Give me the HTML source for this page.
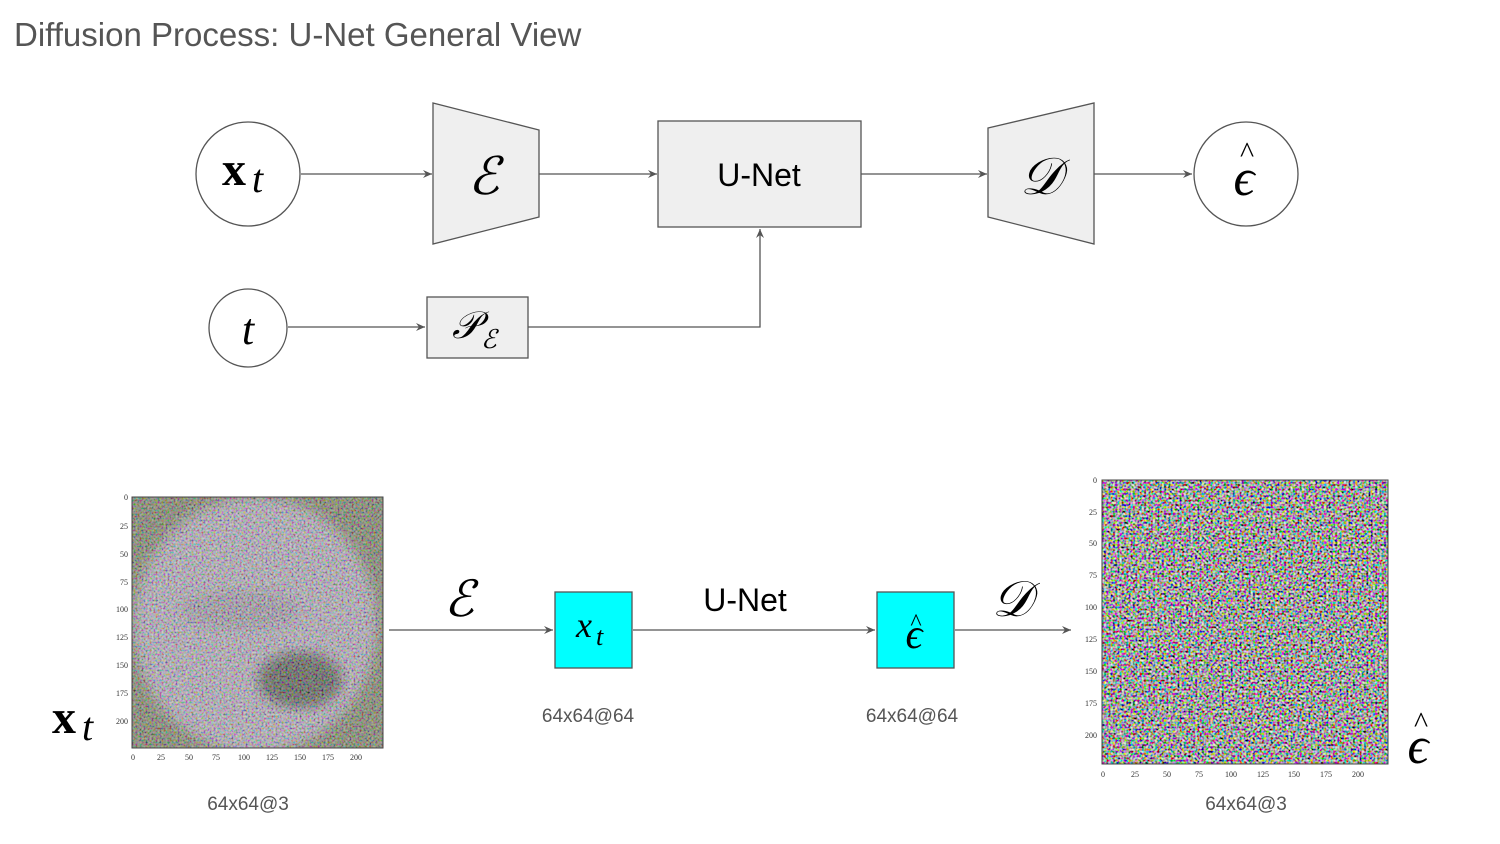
<!DOCTYPE html>
<html><head><meta charset="utf-8"><style>
html,body{margin:0;padding:0;background:#fff;}
svg{display:block;}
text{font-family:"Liberation Sans",sans-serif;}
text.m{font-family:"Liberation Serif",serif;font-style:italic;}
text.b{font-family:"Liberation Serif",serif;font-weight:bold;}
text.s{font-family:"Liberation Serif",serif;}
text.ax{font-family:"Liberation Serif",serif;font-size:8px;fill:#333;}
</style></head><body>
<svg width="1500" height="844" viewBox="0 0 1500 844" xmlns="http://www.w3.org/2000/svg">
<defs>
<marker id="ar" markerWidth="10" markerHeight="8" refX="9" refY="4" orient="auto" markerUnits="userSpaceOnUse">
<path d="M0,0 L9,4 L0,8 L3,4 z" fill="#555"/></marker>
<filter id="nz" x="0" y="0" width="100%" height="100%">
<feTurbulence type="fractalNoise" baseFrequency="0.45" numOctaves="1" seed="3" result="t"/>
<feColorMatrix in="t" type="matrix" values="2.4 0 0 0 -0.82  0 2.4 0 0 -0.82  0 0 2.4 0 -0.82  0 0 0 0 1"/>
</filter>
<filter id="nz2" x="0" y="0" width="100%" height="100%">
<feTurbulence type="fractalNoise" baseFrequency="0.5" numOctaves="1" seed="7" result="t"/>
<feColorMatrix in="t" type="matrix" values="2.4 0 0 0 -0.7  0 2.4 0 0 -0.7  0 0 2.4 0 -0.7  0 0 0 0 0.45"/>
</filter>
<filter id="bl"><feGaussianBlur stdDeviation="6"/></filter>
<clipPath id="c1"><rect x="132" y="497" width="251" height="251"/></clipPath>
</defs>

<text x="14" y="46" font-size="33" fill="#555">Diffusion Process: U-Net General View</text>

<g stroke="#555" stroke-width="1.3" fill="none">
<circle cx="248" cy="174" r="52" fill="#fff"/>
<line x1="301" y1="174" x2="432" y2="174" marker-end="url(#ar)"/>
<polygon points="433,103 539,130 539,217 433,244" fill="#efefef"/>
<line x1="539" y1="174" x2="657" y2="174" marker-end="url(#ar)"/>
<rect x="658" y="121" width="203" height="106" fill="#efefef"/>
<line x1="861" y1="174" x2="987" y2="174" marker-end="url(#ar)"/>
<polygon points="988,128 1094,103 1094,244 988,217" fill="#efefef"/>
<line x1="1094" y1="174" x2="1192" y2="174" marker-end="url(#ar)"/>
<circle cx="1246" cy="174" r="52" fill="#fff"/>
<circle cx="248" cy="328" r="39" fill="#fff"/>
<line x1="288" y1="327" x2="425" y2="327" marker-end="url(#ar)"/>
<rect x="427" y="297" width="101" height="61" fill="#efefef"/>
<polyline points="528,327 760,327 760,229" marker-end="url(#ar)"/>
</g>
<text x="222" y="185" font-size="48" class="b">x</text>
<text x="252" y="192" font-size="40" class="m">t</text>
<text x="468" y="194" font-size="52" class="m">ℰ</text>
<text x="759" y="186" font-size="32" text-anchor="middle">U-Net</text>
<text x="1020" y="194" font-size="52" class="m">𝒟</text>
<text x="1244" y="195" font-size="52" class="m" text-anchor="middle">ϵ</text>
<text x="1247" y="162" font-size="30" class="s" text-anchor="middle">^</text>
<text x="248" y="344" font-size="44" class="m" text-anchor="middle">t</text>
<text x="452" y="338" font-size="38" class="m">𝒫</text>
<text x="481" y="348" font-size="26" class="m">ℰ</text>

<g clip-path="url(#c1)">
<rect x="132" y="497" width="251" height="251" fill="#6f7258"/>
<ellipse cx="255" cy="625" rx="122" ry="128" fill="#aaa2b2" filter="url(#bl)"/>
<ellipse cx="300" cy="680" rx="42" ry="28" fill="#45463f" filter="url(#bl)"/>
<ellipse cx="240" cy="610" rx="60" ry="20" fill="#958d9c" filter="url(#bl)"/>
<rect x="132" y="497" width="251" height="251" filter="url(#nz2)"/>
</g>
<rect x="132" y="497" width="251" height="251" fill="none" stroke="#444" stroke-width="1"/>
<g text-anchor="end">
<text class="ax" x="128" y="500">0</text><text class="ax" x="128" y="529">25</text><text class="ax" x="128" y="557">50</text><text class="ax" x="128" y="585">75</text><text class="ax" x="128" y="612">100</text><text class="ax" x="128" y="640">125</text><text class="ax" x="128" y="668">150</text><text class="ax" x="128" y="696">175</text><text class="ax" x="128" y="724">200</text>
</g>
<g text-anchor="middle">
<text class="ax" x="133" y="760">0</text><text class="ax" x="161" y="760">25</text><text class="ax" x="189" y="760">50</text><text class="ax" x="216" y="760">75</text><text class="ax" x="244" y="760">100</text><text class="ax" x="272" y="760">125</text><text class="ax" x="300" y="760">150</text><text class="ax" x="328" y="760">175</text><text class="ax" x="356" y="760">200</text>
</g>
<text x="52" y="733" font-size="48" class="b">x</text>
<text x="82" y="740" font-size="40" class="m">t</text>
<text x="248" y="810" font-size="19" fill="#555" text-anchor="middle">64x64@3</text>

<g stroke="#555" stroke-width="1.3" fill="none">
<line x1="389" y1="630" x2="553" y2="630" marker-end="url(#ar)"/>
<line x1="633" y1="630" x2="875" y2="630" marker-end="url(#ar)"/>
<line x1="955" y1="630" x2="1071" y2="630" marker-end="url(#ar)"/>
</g>
<rect x="555" y="592" width="77" height="76" fill="#00ffff" stroke="#555" stroke-width="1.3"/>
<rect x="877" y="592" width="77" height="76" fill="#00ffff" stroke="#555" stroke-width="1.3"/>
<text x="444" y="616" font-size="50" class="m">ℰ</text>
<text x="576" y="637" font-size="36" class="m">x</text>
<text x="596" y="645" font-size="26" class="m">t</text>
<text x="745" y="611" font-size="32" text-anchor="middle">U-Net</text>
<text x="914" y="648" font-size="42" class="m" text-anchor="middle">ϵ</text>
<text x="916" y="630" font-size="24" class="s" text-anchor="middle">^</text>
<text x="992" y="616" font-size="50" class="m">𝒟</text>
<text x="588" y="722" font-size="19" fill="#555" text-anchor="middle">64x64@64</text>
<text x="912" y="722" font-size="19" fill="#555" text-anchor="middle">64x64@64</text>

<rect x="1102" y="480" width="286" height="284" fill="#8b8089"/>
<rect x="1102" y="480" width="286" height="284" filter="url(#nz)"/>
<rect x="1102" y="480" width="286" height="284" fill="none" stroke="#444" stroke-width="1"/>
<g text-anchor="end">
<text class="ax" x="1097" y="483">0</text><text class="ax" x="1097" y="515">25</text><text class="ax" x="1097" y="546">50</text><text class="ax" x="1097" y="578">75</text><text class="ax" x="1097" y="610">100</text><text class="ax" x="1097" y="642">125</text><text class="ax" x="1097" y="674">150</text><text class="ax" x="1097" y="706">175</text><text class="ax" x="1097" y="738">200</text>
</g>
<g text-anchor="middle">
<text class="ax" x="1103" y="777">0</text><text class="ax" x="1135" y="777">25</text><text class="ax" x="1167" y="777">50</text><text class="ax" x="1199" y="777">75</text><text class="ax" x="1231" y="777">100</text><text class="ax" x="1263" y="777">125</text><text class="ax" x="1294" y="777">150</text><text class="ax" x="1326" y="777">175</text><text class="ax" x="1358" y="777">200</text>
</g>
<text x="1418" y="763" font-size="52" class="m" text-anchor="middle">ϵ</text>
<text x="1421" y="732" font-size="30" class="s" text-anchor="middle">^</text>
<text x="1246" y="810" font-size="19" fill="#555" text-anchor="middle">64x64@3</text>
</svg>
</body></html>
